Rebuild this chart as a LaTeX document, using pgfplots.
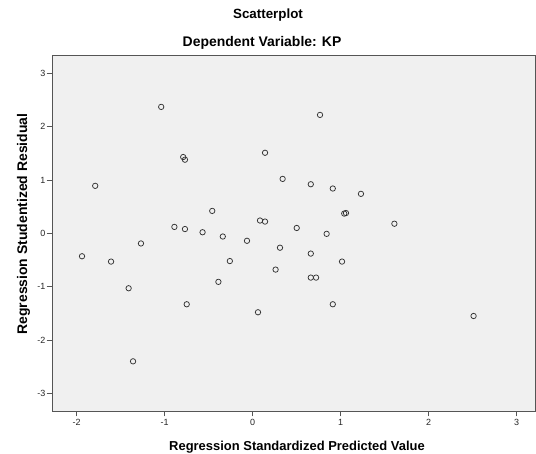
\documentclass[border=0pt]{standalone}
\usepackage{fontspec}
\setmainfont{Liberation Sans}
\usepackage{pgfplots}
\pgfplotsset{compat=1.18}
\definecolor{plotbg}{HTML}{F0F0F0}
\definecolor{frame}{HTML}{555555}
\definecolor{markc}{HTML}{333333}
\begin{document}
\begin{tikzpicture}
\path[use as bounding box, fill=white] (0,0) rectangle (536bp,454bp);
\begin{axis}[
  at={(52bp,43bp)}, anchor=south west,
  scale only axis, width=483bp, height=356bp,
  xmin=-2.281, xmax=3.208, ymin=-3.331, ymax=3.343,
  axis background/.style={fill=plotbg},
  axis line style={draw=frame, line width=0.8bp},
  xtick={-2,-1,0,1,2,3}, ytick={-3,-2,-1,0,1,2,3},
  xticklabels={-2,-1,0,1,2,3}, yticklabels={-3,-2,-1,0,1,2,3},
  tick pos=left, tick align=outside,
  major tick length=5.5bp,
  tick style={draw=frame, line width=0.7bp},
  /pgf/number format/assume math mode=true,
  tick label style={font=\fontsize{9}{10}\selectfont, text=black!85},
  xticklabel style={inner sep=1bp, yshift=-2bp},
  yticklabel style={inner sep=1bp},
]
\addplot[only marks, mark=o, mark size=2.7bp, mark options={draw=markc, line width=0.75bp}] coordinates {
(-1.04,2.37) (-0.79,1.43) (-0.77,1.38) (0.14,1.51) (0.34,1.02)
(-1.79,0.89) (-0.46,0.42) (-0.89,0.12) (-0.77,0.08) (-0.57,0.02)
(-0.34,-0.06) (-0.065,-0.14) (0.083,0.24) (0.14,0.22) (0.50,0.10)
(0.31,-0.27) (-1.27,-0.19) (-1.94,-0.43) (-1.61,-0.53) (-0.26,-0.52)
(0.765,2.22) (0.66,0.92) (0.91,0.84) (1.23,0.74) (1.04,0.37)
(1.06,0.38) (0.84,-0.01) (1.61,0.18) (0.66,-0.38) (1.015,-0.53)
(0.66,-0.83) (0.72,-0.83) (0.91,-1.33) (2.51,-1.55) (0.26,-0.68)
(-0.39,-0.91) (-1.41,-1.03) (-0.75,-1.33) (0.06,-1.48) (-1.36,-2.40)
};
\end{axis}
\node[font=\bfseries\fontsize{13.4}{15}\selectfont, anchor=center] at (268bp,439bp) {Scatterplot};
\node[font=\bfseries\fontsize{14}{16}\selectfont, anchor=center] at (262bp,411bp) {Dependent Variable: KP};
\node[font=\bfseries\fontsize{13}{15}\selectfont, anchor=base, inner sep=0pt] at (297bp,4bp) {Regression Standardized Predicted Value};
\node[font=\bfseries\fontsize{14}{16}\selectfont, rotate=90, anchor=base, inner sep=0pt] at (27bp,230bp) {Regression Studentized Residual};
\end{tikzpicture}
\end{document}
